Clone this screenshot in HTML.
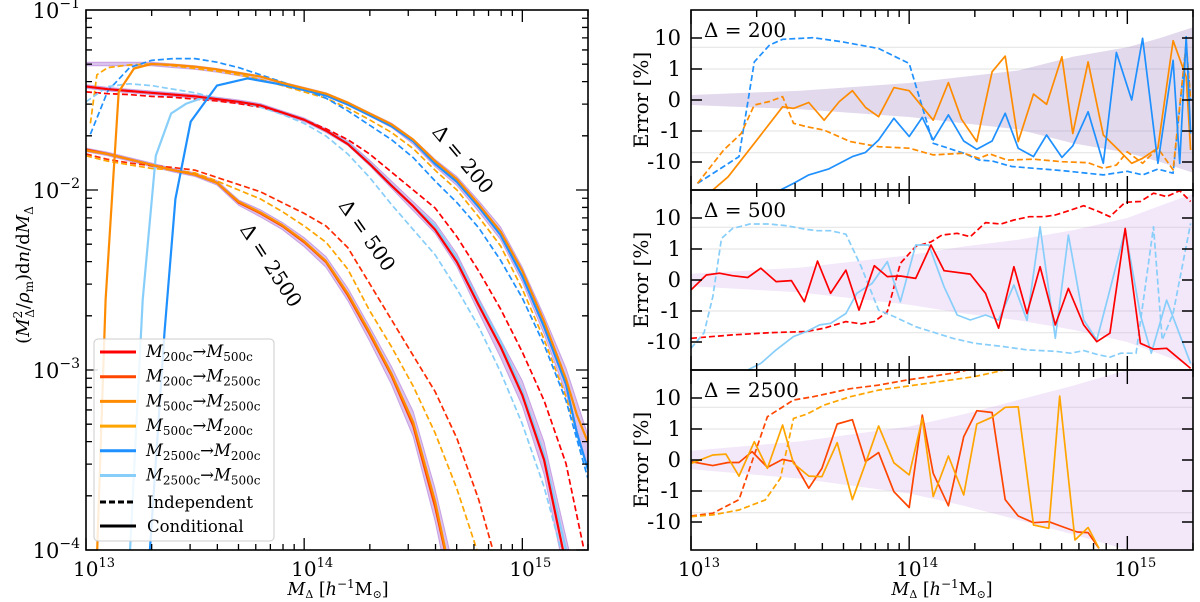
<!DOCTYPE html>
<html><head><meta charset="utf-8"><style>
body{margin:0;background:#fff}
svg{display:block;font-family:"DejaVu Serif","Liberation Serif",serif}
</style></head><body>
<svg id="fig" width="1200" height="602" viewBox="0 0 1200 602" xmlns="http://www.w3.org/2000/svg">
<defs>
<clipPath id="clipL"><rect x="86" y="10" width="502" height="540"/></clipPath>
<clipPath id="clipP0"><rect x="691" y="10" width="502" height="180"/></clipPath>
<clipPath id="clipP1"><rect x="691" y="190" width="502" height="180"/></clipPath>
<clipPath id="clipP2"><rect x="691" y="370" width="502" height="180"/></clipPath>
</defs>
<g id="left"></g>
<g id="right"></g>
</svg>
<script>
// ---------- left panel data (log10 M, log10 y) ----------
const grid24=[13.0,13.1,13.2,13.3,13.4,13.5,13.6,13.7,13.8,13.9,14.0,14.1,14.2,14.3,14.4,14.5,14.6,14.7,14.8,14.9,15.0,15.1,15.2,15.3];
const grid18=[13.0,13.1,13.2,13.3,13.4,13.5,13.6,13.7,13.8,13.9,14.0,14.1,14.2,14.3,14.4,14.5,14.6,14.7];
const true200=[-1.30,-1.30,-1.30,-1.30,-1.31,-1.32,-1.335,-1.355,-1.375,-1.41,-1.44,-1.47,-1.52,-1.58,-1.64,-1.73,-1.85,-1.95,-2.09,-2.24,-2.47,-2.75,-3.06,-3.45];
const true500=[-1.425,-1.44,-1.45,-1.46,-1.47,-1.48,-1.495,-1.51,-1.53,-1.57,-1.61,-1.67,-1.74,-1.85,-1.97,-2.09,-2.21,-2.39,-2.64,-2.88,-3.13,-3.49,-4.05,-4.6];
const true2500=[-1.777,-1.80,-1.83,-1.86,-1.89,-1.915,-1.96,-2.07,-2.13,-2.20,-2.29,-2.40,-2.58,-2.80,-3.03,-3.30,-3.75,-4.3];
const band200HW=[0.01,0.01,0.01,0.01,0.01,0.01,0.01,0.01,0.01,0.01,0.01,0.01,0.01,0.01,0.012,0.015,0.02,0.025,0.03,0.035,0.04,0.05,0.07,0.09];
const band500HW=[0.01,0.01,0.01,0.01,0.01,0.01,0.01,0.01,0.01,0.01,0.01,0.01,0.012,0.015,0.02,0.025,0.03,0.035,0.04,0.05,0.07,0.09,0.12,0.15];
const band2500HW=[0.01,0.01,0.01,0.01,0.01,0.01,0.012,0.015,0.02,0.02,0.025,0.03,0.035,0.04,0.05,0.07,0.09,0.12];

const c200from500X=[13.05,13.09,13.15,13.22,13.3,13.4,13.5,13.6,13.7,13.8,13.9,14.0,14.1,14.2,14.3,14.4,14.5,14.6,14.7,14.8,14.9,15.0,15.1,15.2,15.25,15.3];
const c200from500Y=[-4.05,-2.61,-1.455,-1.325,-1.30,-1.305,-1.315,-1.33,-1.35,-1.37,-1.405,-1.435,-1.465,-1.515,-1.575,-1.635,-1.72,-1.84,-1.94,-2.08,-2.23,-2.45,-2.73,-3.05,-3.25,-3.4];
const c200from2500X=[13.29,13.36,13.41,13.48,13.6,13.74,13.9,14.0,14.1,14.2,14.3,14.4,14.5,14.6,14.7,14.8,14.9,15.0,15.1,15.2,15.25,15.3];
const c200from2500Y=[-4.05,-2.79,-2.05,-1.62,-1.42,-1.38,-1.415,-1.445,-1.475,-1.525,-1.585,-1.645,-1.73,-1.855,-1.955,-2.095,-2.25,-2.48,-2.76,-3.08,-3.35,-3.55];
const c500from200Y=[-1.425,-1.44,-1.45,-1.46,-1.47,-1.48,-1.495,-1.51,-1.53,-1.57,-1.61,-1.67,-1.745,-1.855,-1.975,-2.09,-2.22,-2.40,-2.64,-2.87,-3.14,-3.50,-4.08,-4.6];
const c500from2500X=[13.2,13.26,13.32,13.39,13.46,13.53,13.6,13.7,13.8,13.9,14.0,14.1,14.2,14.3,14.4,14.5,14.6,14.7,14.8,14.9,15.0,15.1,15.2,15.3];
const c500from2500Y=[-4.05,-2.61,-1.81,-1.575,-1.52,-1.49,-1.495,-1.51,-1.53,-1.57,-1.61,-1.67,-1.74,-1.85,-1.97,-2.09,-2.20,-2.38,-2.62,-2.84,-3.12,-3.47,-4.0,-4.6];
const c2500from200Y=[-1.775,-1.80,-1.83,-1.86,-1.89,-1.915,-1.96,-2.07,-2.13,-2.20,-2.29,-2.40,-2.585,-2.80,-3.03,-3.31,-3.76,-4.3];
const c2500from500Y=[-1.78,-1.80,-1.83,-1.86,-1.89,-1.915,-1.96,-2.065,-2.125,-2.195,-2.285,-2.395,-2.575,-2.79,-3.02,-3.29,-3.73,-4.3];

const i200from500X=[13.02,13.05,13.1,13.2,13.3,13.4,13.5,13.6,13.7,13.8,13.9,14.0,14.1,14.2,14.3,14.4,14.5,14.6,14.7,14.8,14.9,15.0,15.1,15.2,15.3];
const i200from500Y=[-1.63,-1.36,-1.32,-1.305,-1.30,-1.31,-1.325,-1.34,-1.36,-1.385,-1.42,-1.455,-1.49,-1.545,-1.61,-1.68,-1.77,-1.89,-2.0,-2.15,-2.31,-2.55,-2.83,-3.15,-3.55];
const i200from2500X=[13.02,13.1,13.2,13.3,13.4,13.5,13.6,13.7,13.8,13.9,14.0,14.1,14.2,14.3,14.4,14.5,14.6,14.7,14.8,14.9,15.0,15.1,15.2,15.3];
const i200from2500Y=[-1.69,-1.45,-1.32,-1.28,-1.27,-1.27,-1.29,-1.32,-1.36,-1.40,-1.44,-1.49,-1.56,-1.64,-1.72,-1.82,-1.95,-2.07,-2.21,-2.39,-2.60,-2.86,-3.17,-3.6];
const i500from200Y=[-1.455,-1.465,-1.47,-1.48,-1.485,-1.495,-1.505,-1.52,-1.54,-1.57,-1.61,-1.66,-1.72,-1.80,-1.90,-2.0,-2.10,-2.26,-2.45,-2.66,-2.90,-3.17,-3.52,-4.1];
const i500from2500X=[13.0,13.1,13.2,13.3,13.4,13.5,13.6,13.7,13.8,13.9,14.0,14.1,14.2,14.3,14.4,14.5,14.6,14.7,14.8,14.9,15.0,15.1,15.2];
const i500from2500Y=[-1.51,-1.425,-1.41,-1.42,-1.44,-1.46,-1.49,-1.51,-1.54,-1.58,-1.63,-1.70,-1.80,-1.93,-2.08,-2.22,-2.36,-2.55,-2.76,-3.01,-3.30,-3.65,-4.1];
const grid20=[13.0,13.1,13.2,13.3,13.4,13.5,13.6,13.7,13.8,13.9,14.0,14.1,14.2,14.3,14.4,14.5,14.6,14.7,14.8,14.9];
const grid19=[13.0,13.1,13.2,13.3,13.4,13.5,13.6,13.7,13.8,13.9,14.0,14.1,14.2,14.3,14.4,14.5,14.6,14.7,14.8];
const i2500from200Y=[-1.80,-1.83,-1.85,-1.865,-1.875,-1.89,-1.93,-1.97,-2.01,-2.07,-2.13,-2.20,-2.32,-2.52,-2.72,-2.92,-3.12,-3.38,-3.72,-4.15];
const i2500from500Y=[-1.81,-1.84,-1.86,-1.88,-1.89,-1.905,-1.95,-2.0,-2.05,-2.12,-2.20,-2.29,-2.44,-2.67,-2.87,-3.09,-3.35,-3.66,-4.03];

// ---------- right panel data (log10 M, error %) ----------
const bandX=[13.0,13.5,14.0,14.25,14.5,14.75,15.0,15.15,15.3];
const p1Band=[0.16,0.3,0.55,0.75,0.95,2.5,5,10,22];
const p2Band=[0.2,0.4,0.8,1.2,2,4,10,25,60];
const p3Band=[0.3,0.6,1.2,3,8.6,25,80,150,200];

const p1IndBlueX=[13.03,13.22,13.29,13.36,13.42,13.56,13.69,13.86,14.0,14.11,14.25,14.32,14.38,14.47,14.70,14.89,15.0,15.07,15.14,15.21,15.27,15.29];
const p1IndBlueY=[-49,-6.7,1.7,5.9,9.1,10.2,7.6,4.6,1.5,-2.5,-5.2,-8.6,-9.3,-14,-19,-26,-20,-26,-17,-23,6.7,0];
const p1IndOrX=[13.03,13.15,13.23,13.29,13.36,13.42,13.47,13.53,13.61,13.73,13.86,14.0,14.11,14.25,14.32,14.37,14.45,14.57,14.70,14.82,14.89,14.95,15.0,15.07,15.14,15.21,15.27,15.29];
const p1IndOrY=[-49,-4.1,-1.2,-0.16,-0.05,0.11,-0.75,-0.86,-0.97,-2.2,-3.2,-3.6,-5.9,-5.2,-7.6,-5.5,-8.7,-8.1,-9.8,-10.5,-16,-12.6,-4.7,-11,-3.6,-18,6.7,0];
const p1CondOrX=[13.10,13.17,13.29,13.42,13.47,13.54,13.61,13.68,13.74,13.80,13.86,13.93,14.0,14.11,14.18,14.24,14.31,14.38,14.44,14.50,14.57,14.63,14.70,14.75,14.82,14.89,14.96,15.02,15.07,15.14,15.21,15.27,15.29];
const p1CondOrY=[-80,-30,-2.5,-0.22,-0.27,-0.08,-0.65,-0.05,0.30,-0.24,-0.54,0.40,0.30,-0.65,0.56,-0.62,-2.2,0.91,2.6,-2.2,0.19,-0.14,2.5,-1.2,1.7,-1.35,-4.1,-11,-7.6,-3.5,8.2,0.75,-4.1];
const p1CondBlueX=[13.41,13.47,13.54,13.63,13.74,13.80,13.86,13.93,14.0,14.06,14.11,14.18,14.25,14.31,14.38,14.44,14.50,14.57,14.63,14.70,14.75,14.82,14.89,14.95,15.02,15.07,15.14,15.21,15.24,15.27,15.29];
const p1CondBlueY=[-80,-49,-26,-17,-6.7,-4.9,-1.95,-0.59,-1.5,-0.56,-1.95,-0.48,-2.1,-3.9,-2.1,-0.43,-3.6,-6.7,-1.35,-7.1,-3.0,-0.38,-11,3.4,0,9.8,-11,1.9,-11,11,-1.2];

const p2IndRedX=[13.0,13.19,13.36,13.53,13.61,13.71,13.78,13.84,13.90,13.96,14.03,14.10,14.15,14.22,14.28,14.35,14.42,14.48,14.55,14.62,14.67,14.74,14.80,14.87,14.92,14.99,15.06,15.12,15.18,15.24,15.29];
const p2IndRedY=[-7.6,-5.9,-5.0,-4.6,-3.6,-2.2,-2.6,-2.2,-1.05,0.54,1.2,1.7,2.8,3.2,2.5,7.1,6.4,8.6,11,11,12.5,18,25,16,11,32,34,63,49,76,34];
const p2IndSkyX=[13.0,13.06,13.10,13.14,13.19,13.27,13.36,13.44,13.53,13.58,13.64,13.71,13.78,13.86,13.93,14.03,14.20,14.30,14.43,14.54,14.67,14.74,14.80,14.87,14.92,14.97,15.04,15.12,15.16,15.21,15.29];
const p2IndSkyY=[-16,-5,-0.54,2.2,4.6,6.4,6.4,5.6,4.3,3.9,3.9,3.0,0.43,-0.97,-1.5,-3.2,-7.6,-11,-14,-18,-20,-23,-19,-26,-31,-23,-23,5.2,-8.6,-1.2,6.7];
const p2CondRedX=[13.0,13.07,13.13,13.19,13.26,13.32,13.39,13.46,13.52,13.58,13.64,13.71,13.77,13.84,13.90,13.96,14.03,14.10,14.16,14.28,14.35,14.41,14.48,14.54,14.60,14.67,14.73,14.80,14.86,14.92,14.99,15.06,15.12,15.18,15.29];
const p2CondRedY=[-0.32,0.16,0.22,0.14,0.08,0.38,-0.05,-0.02,-0.70,0.61,-0.43,0.32,-0.97,0.46,0.11,0.13,0.05,1.35,0.30,0.19,-0.43,-3.6,0.43,-1.2,0.43,-2.8,-0.27,-2.8,-9.8,-5.2,4.6,-11,-17,-16,-71];
const p2CondSkyX=[13.26,13.32,13.39,13.47,13.53,13.59,13.64,13.71,13.76,13.83,13.90,13.96,14.03,14.09,14.16,14.22,14.28,14.35,14.41,14.48,14.54,14.60,14.67,14.73,14.80,14.86,14.92,14.99,15.06,15.11,15.18,15.29];
const p2CondSkyY=[-80,-49,-18,-6.7,-4.6,-2.8,-2.5,-1.2,-0.43,-0.11,0.59,-0.70,1.35,1.35,-0.22,-1.35,-1.95,-1.35,-1.95,-0.16,-2.0,5.2,-7.6,2.8,-1.95,-8.6,-0.32,4.1,-1.35,-23,-0.65,-49];

const p3IndRedX=[13.0,13.10,13.22,13.35,13.47,13.56,13.73,13.86,13.99,14.20,14.30];
const p3IndRedY=[-6.4,-5.2,-1.9,2.5,8.6,11,20,26,38,63,90];
const p3IndOrX=[13.0,13.10,13.22,13.34,13.41,13.47,13.53,13.61,13.73,13.86,14.0,14.30,14.47];
const p3IndOrY=[-6.7,-5.9,-4.1,-1.95,-0.59,2.2,3.0,5.9,11,18,24.5,49,90];
const p3CondRedX=[13.0,13.10,13.17,13.22,13.28,13.35,13.42,13.47,13.54,13.60,13.67,13.74,13.80,13.86,13.93,14.0,14.06,14.11,14.18,14.25,14.31,14.38,14.44,14.50,14.57,14.64,14.70,14.77,14.82,14.87];
const p3CondRedY=[-0.05,-0.18,-0.08,-0.08,0.27,-0.24,0.02,-0.05,-0.91,-0.27,1.45,2.0,-0.05,0.24,-1.05,-3.4,2.8,-0.43,-3.0,0.75,3.9,3.4,-1.9,-6.4,-10.5,-9.8,-14,-21,-22,-71];
const p3CondOrX=[13.0,13.10,13.16,13.22,13.29,13.35,13.42,13.47,13.54,13.60,13.67,13.74,13.80,13.86,13.93,14.0,14.06,14.11,14.18,14.25,14.31,14.38,14.44,14.50,14.57,14.64,14.69,14.76,14.82,14.87];
const p3CondOrY=[-0.11,0.16,0.19,-0.52,0.59,-0.27,1.35,-0.11,-0.52,-0.54,0.56,-1.9,-0.11,1.25,-0.09,-0.48,2.2,-1.5,0.13,-1.35,1.45,2.4,5.0,5.2,-12.5,-16,11.5,-38,-15,-71];

const errTickVals=[10,1,0,-1,-10];
const errTickLabels=["10","1","0","-1","-10"];
const leftYTicks=[-1,-2,-3,-4];
const xDecades=[13,14,15];
const legendLabels=[["200c","500c"],["200c","2500c"],["500c","2500c"],["500c","200c"],["2500c","200c"],["2500c","500c"]];
const legendColors=["#ff0000","#ff4500","#ff8c00","#ffa500","#1e90ff","#87cefa"];

// ---------- helpers ----------
const NS="http://www.w3.org/2000/svg";
function mk(tag,attrs,parent){const e=document.createElementNS(NS,tag);for(const k in attrs)e.setAttribute(k,attrs[k]);parent.appendChild(e);return e;}
const LX0=86,LX1=588,LY0=10,LY1=550;
function lx(v){return LX0+(v-13)/2.301*(LX1-LX0);}
function ly(v){return LY0+(-1-v)/3*(LY1-LY0);}
const RX0=691,RX1=1193;
function rx(v){return RX0+(v-13)/2.301*(RX1-RX0);}
const zeroY=[100,280,460];
function symT(v){const a=Math.abs(v);return a<=1?v:Math.sign(v)*(1+Math.log10(a));}
function ry(p,v){return zeroY[p]-31*symT(v);}
function pathD(xs,ys,fx,fy){return xs.map((x,i)=>(i?'L':'M')+fx(x).toFixed(1)+','+fy(ys[i]).toFixed(1)).join('');}

const L=document.getElementById('left');
const R=document.getElementById('right');

// ---------- LEFT ----------
const gL=mk('g',{'clip-path':'url(#clipL)'},L);


function bandL(xs,ys,hw,name){
  let d='M'+xs.map((x,i)=>lx(x).toFixed(1)+','+ly(ys[i]+hw[i]).toFixed(1)).join('L');
  for(let i=xs.length-1;i>=0;i--)d+='L'+lx(xs[i]).toFixed(1)+','+ly(ys[i]-hw[i]).toFixed(1);
  const e=mk('path',{d:d+'Z',fill:'rgba(175,120,215,0.45)',stroke:'rgba(175,120,215,0.6)','stroke-width':1},gL);
  
  
}
bandL(grid24,true200,band200HW,'truth-band-200');
bandL(grid24,true500,band500HW,'truth-band-500');
bandL(grid18,true2500,band2500HW,'truth-band-2500');
function lineL(xs,ys,color,dashed,name){
  const e=mk('path',{d:pathD(xs,ys,lx,ly),fill:'none',stroke:color,'stroke-width':dashed?1.7:2.2,'stroke-dasharray':dashed?'6,3':'none','stroke-linejoin':'round'},gL);
  
  
}
lineL(i200from500X,i200from500Y,'#ffa500',true,'indep-500-to-200');
lineL(i200from2500X,i200from2500Y,'#1e90ff',true,'indep-2500-to-200');
lineL(grid24,i500from200Y,'#ff0000',true,'indep-200-to-500');
lineL(i500from2500X,i500from2500Y,'#87cefa',true,'indep-2500-to-500');
lineL(grid20,i2500from200Y,'#ff2a00',true,'indep-200-to-2500');
lineL(grid19,i2500from500Y,'#ffa500',true,'indep-500-to-2500');
lineL(c500from2500X,c500from2500Y,'#87cefa',false,'cond-2500-to-500');
lineL(grid24,c500from200Y,'#ff0000',false,'cond-200-to-500');
lineL(c200from2500X,c200from2500Y,'#1e90ff',false,'cond-2500-to-200');
lineL(c200from500X,c200from500Y,'#ff8c00',false,'cond-500-to-200');
lineL(grid18,c2500from200Y,'#ff4500',false,'cond-200-to-2500');
lineL(grid18,c2500from500Y,'#ff8c00',false,'cond-500-to-2500');

[['Δ = 200',462,160,50],['Δ = 500',366,236,55],['Δ = 2500',270,266,57]].forEach((t,i)=>{
  const e=mk('text',{x:t[1],y:t[2],'font-size':20,'text-anchor':'middle','dominant-baseline':'middle',transform:`rotate(${t[3]} ${t[1]} ${t[2]})`},L);
  e.textContent=t[0];
  
  
});

const fr=mk('rect',{x:LX0,y:LY0,width:LX1-LX0,height:LY1-LY0,fill:'none',stroke:'#000','stroke-width':1.6},L);


let tk='';
xDecades.forEach(d=>{
  for(let m=1;m<10;m++){const v=d+Math.log10(m);if(v>15.302)continue;const X=lx(v);const len=m===1?12:6;
    tk+=`M${X},${LY1}v${-len}M${X},${LY0}v${len}`;}
});
[-2,-3,-4].forEach(d=>{
  for(let m=1;m<10;m++){const v=d+Math.log10(m);const Y=ly(v);const len=m===1?12:6;
    tk+=`M${LX0},${Y}h${len}M${LX1},${Y}h${-len}`;}
});
const tkE=mk('path',{d:tk,stroke:'#000','stroke-width':1.3,fill:'none'},L);


leftYTicks.forEach(v=>{
  const e=mk('text',{x:80,y:ly(v)+8,'font-size':21,'text-anchor':'end'},L);
  e.innerHTML='10<tspan dy="-10" font-size="14">−'+(-v)+'</tspan>';
  
  
});
function xTickLabels(parent,fx){
  xDecades.forEach(d=>{
    const e=mk('text',{x:fx(d)+8,y:576,'font-size':20,'text-anchor':'middle'},parent);
    e.innerHTML='10<tspan dy="-9" font-size="13">'+d+'</tspan>';
    
    
  });
}
xTickLabels(L,lx);
function xTitle(parent,cx){
  const e=mk('text',{x:cx,y:595,'font-size':17.5,'text-anchor':'middle'},parent);
  e.innerHTML='<tspan font-style="italic">M</tspan><tspan dy="3" font-size="11">Δ</tspan><tspan dy="-3"> [</tspan><tspan font-style="italic">h</tspan><tspan dy="-7" font-size="12">−1</tspan><tspan dy="7">M</tspan><tspan dy="3" font-size="11">⊙</tspan><tspan dy="-3">]</tspan>';
  
  
}
xTitle(L,338);
const yt=mk('text',{x:0,y:0,'font-size':18,'text-anchor':'middle',transform:'translate(29 275) rotate(-90)'},L);
yt.innerHTML='(<tspan font-style="italic">M</tspan><tspan dy="-7" font-size="12">2</tspan><tspan dx="-7" dy="12" font-size="12">Δ</tspan><tspan dy="-5">/</tspan><tspan font-style="italic">ρ</tspan><tspan dy="4" font-size="12">m</tspan><tspan dy="-4">)d</tspan><tspan font-style="italic">n</tspan>/d<tspan font-style="italic">M</tspan><tspan dy="4" font-size="12">Δ</tspan>';



const lg=mk('g',{},L);


mk('rect',{x:94,y:339,width:180,height:202,rx:4,fill:'rgba(255,255,255,0.85)',stroke:'#ccc','stroke-width':1},lg);
legendLabels.forEach((lab,i)=>{
  const y=352+i*24.7;
  const ln=mk('line',{x1:100,x2:136,y1:y,y2:y,stroke:legendColors[i],'stroke-width':3},lg);
  
  
  const t=mk('text',{x:146,y:y+5,'font-size':16.5},lg);
  t.innerHTML='<tspan font-style="italic">M</tspan><tspan dy="4" font-size="12">'+lab[0]+'</tspan><tspan dy="-4">→</tspan><tspan font-style="italic">M</tspan><tspan dy="4" font-size="12">'+lab[1]+'</tspan>';
  
  
});
[['Independent','6,3',502],['Conditional','none',526]].forEach(r=>{
  const ln=mk('line',{x1:100,x2:136,y1:r[2],y2:r[2],stroke:'#000','stroke-width':3,'stroke-dasharray':r[1]},lg);
  
  
  const t=mk('text',{x:147,y:r[2]+6,'font-size':16.5},lg);t.textContent=r[0];
  
  
});

// ---------- RIGHT ----------
const panels=[
 {band:p1Band,label:'Δ = 200',lines:[[p1IndBlueX,p1IndBlueY,'#1e90ff',1],[p1IndOrX,p1IndOrY,'#ff8c00',1],[p1CondOrX,p1CondOrY,'#ff8c00',0],[p1CondBlueX,p1CondBlueY,'#1e90ff',0]],bc:'rgba(150,120,190,0.28)'},
 {band:p2Band,label:'Δ = 500',lines:[[p2IndRedX,p2IndRedY,'#ff0000',1],[p2IndSkyX,p2IndSkyY,'#87cefa',1],[p2CondSkyX,p2CondSkyY,'#87cefa',0],[p2CondRedX,p2CondRedY,'#ff0000',0]],bc:'rgba(200,150,230,0.22)'},
 {band:p3Band,label:'Δ = 2500',lines:[[p3IndRedX,p3IndRedY,'#ff4500',1],[p3IndOrX,p3IndOrY,'#ffa500',1],[p3CondRedX,p3CondRedY,'#ff4500',0],[p3CondOrX,p3CondOrY,'#ffa500',0]],bc:'rgba(200,150,230,0.22)'}
];
panels.forEach((P,p)=>{
  const top=10+180*p, bot=top+180;
  const g=mk('g',{},R);
  
  
  const gc=mk('g',{'clip-path':'url(#clipP'+p+')'},g);
  [5,1,-1,-5].forEach(v=>{mk('line',{x1:RX0,x2:RX1,y1:ry(p,v),y2:ry(p,v),stroke:'#e6e6e6','stroke-width':1.2},gc);});
  let d='M'+bandX.map((x,i)=>rx(x).toFixed(1)+','+ry(p,P.band[i]).toFixed(1)).join('L');
  for(let i=bandX.length-1;i>=0;i--)d+='L'+rx(bandX[i]).toFixed(1)+','+ry(p,-P.band[i]).toFixed(1);
  const be=mk('path',{d:d+'Z',fill:P.bc,stroke:'none'},gc);
  
  
  P.lines.forEach(l=>{
    const e=mk('path',{d:pathD(l[0],l[1],rx,v=>ry(p,v)),fill:'none',stroke:l[2],'stroke-width':1.7,'stroke-dasharray':l[3]?'6,3':'none','stroke-linejoin':'round'},gc);
    
    
  });
  const f=mk('rect',{x:RX0,y:top,width:RX1-RX0,height:180,fill:'none',stroke:'#000','stroke-width':1.6},g);
  
  
  let t='';
  xDecades.forEach(dd=>{for(let m=1;m<10;m++){const v=dd+Math.log10(m);if(v>15.302)continue;const X=rx(v);const len=m===1?14:7;t+=`M${X},${bot}v${-len}M${X},${top}v${len}`;}});
  errTickVals.forEach(v=>{const Y=ry(p,v);t+=`M${RX0},${Y}h11M${RX1},${Y}h-11`;});
  const te=mk('path',{d:t,stroke:'#000','stroke-width':1.4,fill:'none'},g);
  
  
  errTickVals.forEach((v,i)=>{
    const e=mk('text',{x:681,y:ry(p,v)+7,'font-size':21,'text-anchor':'end'},g);e.textContent=errTickLabels[i];
    
    
  });
  const lab=mk('text',{x:704,y:top+27,'font-size':20},g);lab.textContent=P.label;
  
  
  const yl=mk('text',{x:0,y:0,'font-size':20,'text-anchor':'middle',transform:`translate(648 ${top+90}) rotate(-90)`},g);yl.textContent='Error [%]';
  
  
});
xTickLabels(R,rx);
xTitle(R,942);
</script>
</body></html>
